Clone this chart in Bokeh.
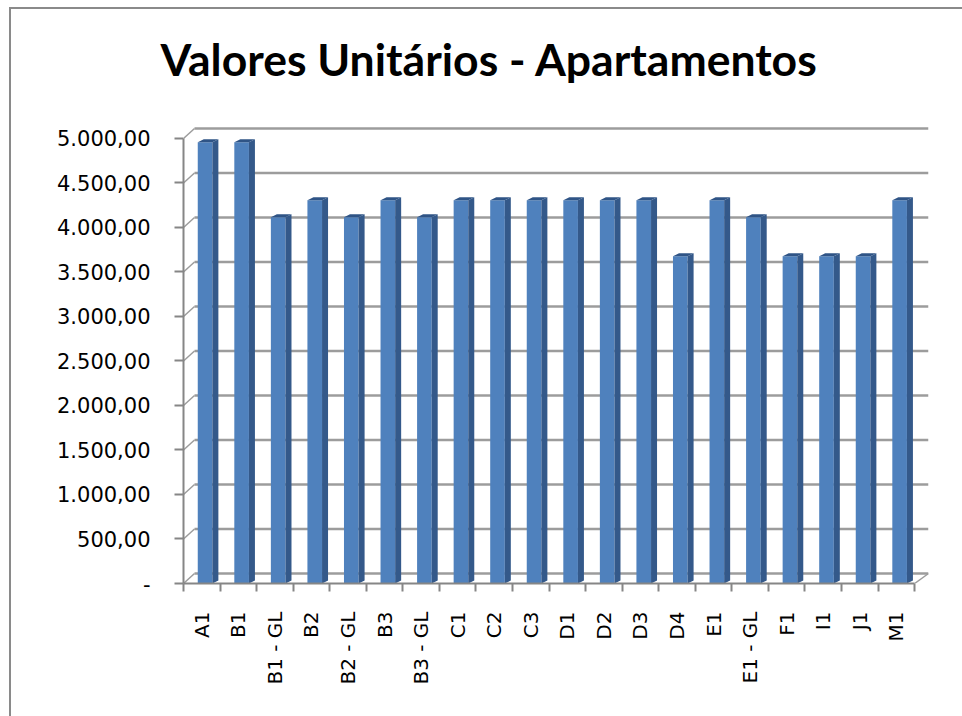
import numpy as np
from bokeh.plotting import figure
from bokeh.models import FixedTicker, Range1d
from bokeh.embed import file_html
from bokeh.resources import INLINE

# ---------------- data ----------------
categories = ["A1", "B1", "B1 - GL", "B2", "B2 - GL", "B3", "B3 - GL", "C1", "C2", "C3",
              "D1", "D2", "D3", "D4", "E1", "E1 - GL", "F1", "I1", "J1", "M1"]
values = [4900, 4900, 4060, 4250, 4060, 4250, 4060, 4250, 4250, 4250,
          4250, 4250, 4250, 3620, 4250, 4060, 3620, 3620, 3620, 4250]
y_ticks = [0, 500, 1000, 1500, 2000, 2500, 3000, 3500, 4000, 4500, 5000]
y_tick_labels = ["-", "500,00", "1.000,00", "1.500,00", "2.000,00", "2.500,00",
                 "3.000,00", "3.500,00", "4.000,00", "4.500,00", "5.000,00"]
title_text = "Valores Unitários - Apartamentos"

# ---------------- geometry / style ----------------
FRAME_W = 745
WALL_H = 455                    # height of the drawn chart walls (px)
FRAME_H = 479                   # frame includes some empty space above the walls
N = len(categories)
X_END = 20.38
px_x = FRAME_W / X_END          # pixels per category
px_y = WALL_H / 5112            # pixels per value unit
Y_END = FRAME_H / px_y
DEPTH_X = 11 / px_x             # back-wall offset (x, data units)
DEPTH_Y = 10 / px_y             # back-wall offset (y, data units)
BAR_SHIFT = 5 / px_y            # bars sit at mid depth
FACE_L, FACE_R = -0.11, 0.29    # front face relative to category centre
SIDE_W = 6 / px_x
TOP_H = 3 / px_y

FRONT = "#4f81bd"
SIDE = "#34598a"
TOP = "#2f5486"
GRID = "#9c9c9c"
AXIS = "#868686"

p = figure(frame_width=FRAME_W, frame_height=FRAME_H,
           x_range=Range1d(0, X_END), y_range=Range1d(0, Y_END),
           output_backend="svg", toolbar_location=None,
           min_border_left=172, min_border_right=34,
           min_border_top=95, min_border_bottom=133,
           background_fill_color="white", border_fill_color="white",
           styles={"margin-left": "9px", "margin-top": "7px",
                   "border-left": "2px solid #8a8a8a", "border-top": "2px solid #8a8a8a"})
p.outline_line_color = None
p.xgrid.visible = False
p.ygrid.visible = False

# back wall grid lines and floor
back_y = [t + DEPTH_Y for t in y_ticks]
p.segment(x0=[DEPTH_X] * len(back_y), y0=back_y, x1=[X_END] * len(back_y), y1=back_y,
          line_color=GRID, line_width=2.5)
# side-wall connectors from the front axis to the back wall
p.segment(x0=[0] * len(y_ticks), y0=y_ticks, x1=[DEPTH_X] * len(y_ticks), y1=back_y,
          line_color=GRID, line_width=1.5)
# right floor edge
p.segment(x0=[N], y0=[0], x1=[X_END], y1=[DEPTH_Y], line_color=GRID, line_width=1.5)

# bars
centers = np.arange(N) + 0.5
tops = np.array(values, dtype=float) + BAR_SHIFT
left = centers + FACE_L
right = centers + FACE_R
p.quad(left=left, right=right, bottom=0, top=tops, fill_color=FRONT, line_color=None)
side_xs = [[r, r + SIDE_W, r + SIDE_W, r] for r in right]
side_ys = [[0, TOP_H, t + TOP_H, t] for t in tops]
p.patches(side_xs, side_ys, fill_color=SIDE, line_color=None)
top_xs = [[l, r, r + SIDE_W, l + SIDE_W] for l, r in zip(left, right)]
top_ys = [[t, t, t + TOP_H, t + TOP_H] for t in tops]
p.patches(top_xs, top_ys, fill_color=TOP, line_color=None)

# axes
p.yaxis.ticker = FixedTicker(ticks=y_ticks)
p.yaxis.major_label_overrides = {t: lab for t, lab in zip(y_ticks, y_tick_labels)}
p.yaxis.bounds = (0, 5000)
p.yaxis.axis_line_color = AXIS
p.yaxis.axis_line_width = 2
p.yaxis.major_tick_line_color = AXIS
p.yaxis.major_tick_line_width = 2
p.yaxis.major_tick_out = 9
p.yaxis.major_tick_in = 0
p.yaxis.minor_tick_line_color = None
p.yaxis.major_label_standoff = 24
p.yaxis.major_label_text_font = "DejaVu Sans"
p.yaxis.major_label_text_font_size = "21px"
p.yaxis.major_label_text_color = "black"

p.xaxis.ticker = FixedTicker(ticks=list(centers), minor_ticks=list(range(N + 1)))
p.xaxis.major_label_overrides = {float(c): cat for c, cat in zip(centers, categories)}
p.xaxis.bounds = (0, N)
p.xaxis.axis_line_color = AXIS
p.xaxis.axis_line_width = 2
p.xaxis.major_tick_line_color = None
p.xaxis.major_tick_out = 0
p.xaxis.major_tick_in = 0
p.xaxis.minor_tick_line_color = AXIS
p.xaxis.minor_tick_line_width = 2
p.xaxis.minor_tick_out = 8
p.xaxis.minor_tick_in = 0
p.xaxis.major_label_orientation = np.pi / 2
p.xaxis.major_label_standoff = 20
p.xaxis.major_label_text_font = "DejaVu Sans"
p.xaxis.major_label_text_font_size = "20px"
p.xaxis.major_label_text_color = "black"

# title
p.title.text = title_text
p.title.text_font = "Lato"
p.title.text_font_style = "bold"
p.title.text_font_size = "44.5px"
p.title.text_color = "black"
p.title.align = "left"
p.title.offset = -23
p.title.standoff = 40

open("out.html", "w").write(file_html(p, INLINE))
